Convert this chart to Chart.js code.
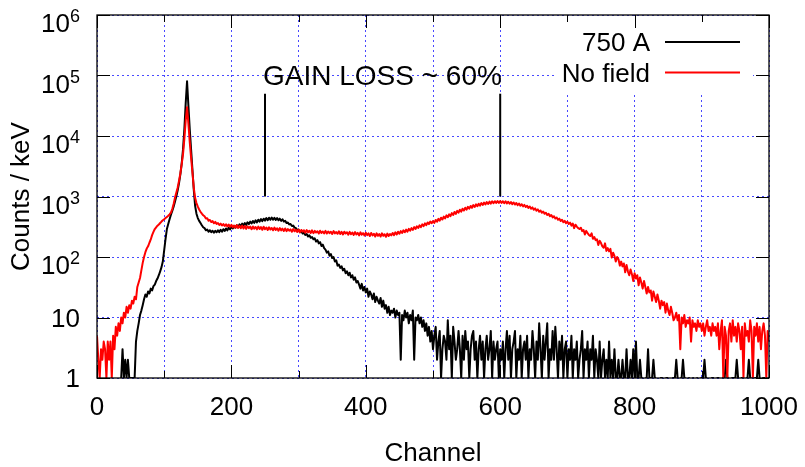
<!DOCTYPE html>
<html>
<head>
<meta charset="utf-8">
<script src="https://cdn.jsdelivr.net/npm/chart.js@4.4.0/dist/chart.umd.min.js"></script>
<style>
html,body{margin:0;padding:0;background:#fff;}
</style>
</head>
<body>
<canvas id="grafica" width="805" height="467"></canvas>
<script>
// =========================
// DATOS
// =========================
const PASO = 2; // canales por punto
const nombres = ['750 A', 'No field'];
const decadas = [1, 10, 100, 1000, 10000, 100000, 1000000];
const baseY = ['1', '10', '10', '10', '10', '10', '10'];
const expY = ['', '', '2', '3', '4', '5', '6'];
const marcas = [250, 600];          // canales marcados
const marcaRango = [1000, 50000];   // alto de las marcas
const textoMarca = 'GAIN LOSS ~ 60%';

// 750 A (negro), canal = i*PASO
const cuentas750 = [
  null,null,null,null,null,null,null,null,null,null,
  null,null,null,null,null,null,null,null,1,3,
  1,2,1,2,1,1,1,1,1,4,
  6,8,11,13,16,20,24,22,27,25,
  30,28,33,35,40,44,50,58,68,85,
  130,200,290,350,420,500,580,680,820,1000,
  1250,1650,2300,3500,6000,13000,35000,80000,32000,13000,
  6000,2800,1300,700,520,440,395,365,335,310,
  300,276,284,262,276,258,272,252,270,256,
  276,258,282,262,288,270,296,276,306,286,
  318,296,326,304,336,312,346,322,356,332,
  364,340,374,350,384,358,394,366,404,374,
  414,384,422,392,430,400,440,406,446,412,
  448,414,444,410,440,404,430,396,420,386,
  396,364,372,346,352,326,330,306,300,278,
  284,256,268,244,252,232,240,218,228,208,
  214,196,204,180,190,168,176,152,160,140,
  132,118,124,105,112,96,100,84,88,72,
  75,66,70,60,64,54,58,50,55,46,
  50,42,46,38,40,35,30,36,28,32,
  26,30,22,27,24,20,25,18,22,19,
  17,21,15,19,14,16,12,15,11,13,
  12,14,10,13,11,12,2,11,9,13,
  10,12,8,11,9,13,2,10,9,11,
  8,10,7,9,6,8,5,7,4,6,
  3,5,7,2,4,6,1,3,5,4,
  2,9,3,5,1,7,4,2,3,6,
  3,1,5,2,6,3,4,1,3,5,
  6,2,4,1,3,5,2,4,1,3,
  5,2,3,6,1,4,2,3,4,1,
  3,2,4,1,3,6,2,5,1,3,
  4,6,1,3,2,5,1,3,4,2,
  5,1,3,2,6,3,1,4,2,8,
  3,1,5,2,4,8,1,3,2,6,
  2,7,3,1,4,2,5,1,3,4,
  1,3,2,5,1,3,2,4,1,2,
  3,6,1,3,2,4,1,3,2,5,
  1,3,2,1,4,1,2,3,1,2,
  1,4,1,2,1,3,1,1,2,1,
  1,2,1,1,3,1,1,2,1,3,
  1,4,1,1,2,1,1,null,1,1,
  3,1,1,1,2,1,1,null,null,1,
  1,1,null,1,1,1,null,null,1,1,
  1,2,1,null,1,1,2,1,1,null,
  1,1,null,1,1,null,1,1,null,1,
  1,1,2,1,1,null,null,1,1,1,
  null,1,1,1,null,1,1,1,2,1,
  1,null,1,1,1,1,2,1,null,1,
  1,1,null,1,1,2,1,1,null,1,
  1,1,2,1,null,1,1,1,null,1,
  1
];

// No field (rojo), canal = i*PASO
const cuentasSinCampo = [
  5,2,1,3,2,4,3,1,4,2,
  4,1,5,3,7,5,8,6,10,8,
  12,10,15,12,16,14,19,17,22,20,
  32,38,45,60,80,100,120,138,150,172,
  195,230,260,290,310,330,345,365,385,405,
  420,440,460,480,505,540,620,750,950,1150,
  1400,1800,2400,3400,5000,9000,18000,30000,16000,8000,
  4400,2500,1400,950,780,680,610,560,520,490,
  470,432,436,398,410,378,392,362,380,352,
  364,338,356,332,350,325,346,320,344,318,
  340,310,332,305,336,302,328,298,330,296,
  326,292,322,300,318,288,320,294,314,286,
  318,290,312,282,316,288,306,280,310,284,
  302,276,306,280,298,272,300,276,294,270,
  296,268,290,272,286,262,290,266,282,260,
  284,256,280,262,276,252,278,256,272,250,
  276,248,270,254,266,244,272,250,264,246,
  270,244,264,248,262,240,268,246,258,242,
  266,240,260,236,262,244,256,234,260,238,
  254,232,258,236,250,228,256,234,248,226,
  252,230,246,222,250,228,242,218,246,224,
  240,218,246,224,238,216,244,222,240,228,
  250,230,256,236,262,242,268,250,276,256,
  284,262,292,272,300,280,312,290,322,302,
  334,312,346,324,360,336,372,350,386,362,
  392,366,410,382,428,398,446,416,466,434,
  488,454,508,474,532,494,556,516,578,540,
  604,562,628,586,652,606,676,630,698,650,
  722,672,742,690,760,708,780,724,794,740,
  810,752,822,764,832,772,836,780,840,784,
  842,782,836,776,830,768,820,760,808,748,
  796,736,780,720,764,704,746,688,726,670,
  704,648,682,628,660,606,636,584,612,562,
  588,540,564,518,540,496,516,474,494,452,
  472,432,450,412,430,394,412,376,396,362,
  384,352,370,330,358,300,342,318,300,290,
  305,268,280,236,270,248,232,222,246,200,
  214,190,196,158,186,170,150,142,168,126,
  140,124,136,98,118,104,84,100,92,72,
  84,70,78,56,74,58,50,62,52,40,
  54,44,50,34,46,38,30,40,32,25,
  32,26,28,19,27,22,18,24,19,14,
  19,16,18,12,17,13,11,15,12,9,
  10,12,9,11,3,10,8,11,7,9,
  8,10,4,9,7,8,6,9,7,8,
  6,8,5,7,9,6,7,5,8,6,
  7,5,8,3,6,9,1,7,5,1,
  6,8,4,9,5,7,4,8,6,3,
  7,1,8,5,6,4,9,6,1,7,
  5,8,4,7,3,6,8,5,1,6,
  4
];

// =========================
// UTILIDADES
// =========================
const FUENTE = "'Liberation Sans', Arial, sans-serif";
Chart.defaults.font.family = FUENTE;
Chart.defaults.font.size = 26;
Chart.defaults.color = '#000';

function puntos(arr){
  return arr.map((v,i)=>({x:i*PASO, y:v}));
}

function lineaMarca(canal){
  return {
    label:'', data: marcaRango.map(v=>({x:canal, y:v})),
    borderColor:'#000', borderWidth:2, order:0
  };
}

// =========================
// MARCO, TICKS, LEYENDA, TEXTO
// =========================
const extras = {
  id:'extras',
  beforeDatasetsDraw(c){
    const a=c.chartArea, ctx=c.ctx;
    ctx.save();
    ctx.fillStyle='#fff';
    ctx.fillRect(a.right-214, a.top+1, 198, 76);
    ctx.restore();
  },
  afterDraw(c){
    const a=c.chartArea, ctx=c.ctx;
    const xs=c.scales.x, ys=c.scales.y;
    ctx.save();
    ctx.strokeStyle='#000';
    ctx.lineWidth=1;
    ctx.beginPath();
    for(let v=0; v<=1000; v+=100){
      const px=Math.round(xs.getPixelForValue(v))+0.5;
      const l = v%200===0 ? 13 : 7;
      ctx.moveTo(px,a.bottom); ctx.lineTo(px,a.bottom-l);
      ctx.moveTo(px,a.top); ctx.lineTo(px,a.top+l);
    }
    decadas.forEach(v=>{
      const py=Math.round(ys.getPixelForValue(v))+0.5;
      ctx.moveTo(a.left,py); ctx.lineTo(a.left+13,py);
      ctx.moveTo(a.right,py); ctx.lineTo(a.right-13,py);
    });
    ctx.stroke();
    ctx.lineWidth=1.3;
    ctx.strokeRect(a.left, a.top, a.right-a.left, a.bottom-a.top);

    // etiquetas del eje y (con exponente)
    ctx.fillStyle='#000';
    ctx.textAlign='right';
    ctx.textBaseline='alphabetic';
    const xr=a.left-17;
    decadas.forEach((v,d)=>{
      const py=ys.getPixelForValue(v);
      if(!expY[d]){
        ctx.font='26px '+FUENTE;
        ctx.fillText(baseY[d], xr, py+9.3);
      } else {
        ctx.font='18px '+FUENTE;
        const w=ctx.measureText(expY[d]).width;
        ctx.fillText(expY[d], xr, py+7);
        ctx.font='26px '+FUENTE;
        ctx.fillText(baseY[d], xr-w, py+17);
      }
    });

    // leyenda
    ctx.font='26px '+FUENTE;
    [0,1].forEach(i=>{
      const ds=c.data.datasets[i];
      const y=a.top+27+i*30.5;
      ctx.fillStyle='#000';
      ctx.fillText(ds.label, a.right-119, y+9.3);
      ctx.strokeStyle=ds.borderColor;
      ctx.lineWidth=2;
      ctx.beginPath();
      ctx.moveTo(a.right-104, y); ctx.lineTo(a.right-29, y);
      ctx.stroke();
    });

    // texto de la marca
    ctx.textAlign='left';
    ctx.fillStyle='#000';
    ctx.font='28px '+FUENTE;
    ctx.fillText(textoMarca, xs.getPixelForValue(marcas[0])-2, ys.getPixelForValue(1e5)+9.8);
    ctx.restore();
  }
};

// =========================
// GRAFICA
// =========================
const grid = {color:'rgba(40,40,255,0.85)', lineWidth:1, drawTicks:false};

new Chart(document.getElementById('grafica'), {
  type:'line',
  data:{
    datasets:[
      {label:nombres[0], data:puntos(cuentas750), borderColor:'#000', borderWidth:2, order:2},
      {label:nombres[1], data:puntos(cuentasSinCampo), borderColor:'#ff0000', borderWidth:2, order:1},
      lineaMarca(marcas[0]),
      lineaMarca(marcas[1])
    ]
  },
  options:{
    responsive:false,
    animation:false,
    devicePixelRatio:1,
    layout:{padding:{top:15, right:36, left:0, bottom:0}},
    elements:{
      point:{radius:0},
      line:{tension:0, borderJoinStyle:'round'}
    },
    plugins:{legend:{display:false}, tooltip:{enabled:false}},
    scales:{
      x:{
        type:'linear', min:0, max:1000,
        ticks:{stepSize:100, autoSkip:false, maxRotation:0, padding:14,
          callback:v=> v%200===0 ? String(v) : ''},
        grid:grid,
        border:{display:false, dash:[2,3]},
        title:{display:true, text:'Channel', padding:{top:0,bottom:-2}},
        afterFit:s=>{ s.height=89; s.paddingLeft=0; s.paddingRight=0; }
      },
      y:{
        type:'logarithmic', min:1, max:1e6,
        afterBuildTicks:s=>{ s.ticks=decadas.map(v=>({value:v})); },
        ticks:{display:false},
        grid:grid,
        border:{display:false, dash:[2,3]},
        title:{display:true, text:'Counts / keV', padding:{top:6,bottom:0}},
        afterFit:s=>{ s.width=97; s.paddingTop=0; s.paddingBottom=0; }
      }
    }
  },
  plugins:[extras]
});
</script>
</body>
</html>
